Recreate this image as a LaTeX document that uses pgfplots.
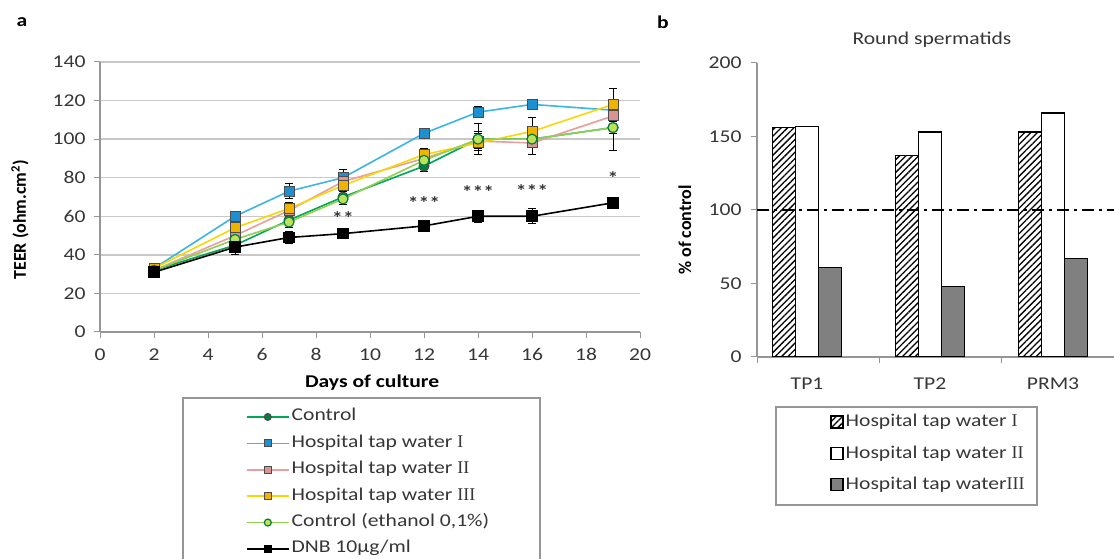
\documentclass[border=0pt]{standalone}
\usepackage{fontspec}
\setmainfont{Carlito}[FakeStretch=1.2]
\newfontfamily\rotfont{Carlito}
\newfontfamily\romfont{Liberation Serif}
\usepackage{pgfplots}
\pgfplotsset{compat=1.18}
\usetikzlibrary{patterns.meta}
\definecolor{axisgray}{RGB}{150,150,150}
\definecolor{gridgray}{RGB}{200,200,200}
\definecolor{labgray}{RGB}{55,55,55}
\definecolor{cCtrl}{RGB}{0,166,90}
\definecolor{cCtrlM}{RGB}{0,128,64}
\definecolor{cH1}{RGB}{60,180,230}
\definecolor{cH1M}{RGB}{30,144,210}
\definecolor{cH2}{RGB}{230,160,160}
\definecolor{cH2M}{RGB}{217,149,148}
\definecolor{cH3}{RGB}{250,215,0}
\definecolor{cH3M}{RGB}{240,180,0}
\definecolor{cEth}{RGB}{146,208,80}
\definecolor{cEthM}{RGB}{190,225,90}
\definecolor{barGray}{RGB}{128,128,128}
\pgfplotsset{
  eb/.style={error bars/.cd, y dir=both, y explicit,
    error bar style={black,line width=1pt},
    error mark options={black,rotate=90,mark size=4pt,line width=1pt}},
}
\newcommand{\fs}{\fontsize{18}{21}\selectfont}
\begin{document}
\begin{tikzpicture}[x=1pt,y=1pt]
\useasboundingbox (0,0) rectangle (1114,559);
\fill[white] (0,0) rectangle (1114,559);
% ---------- panel a ----------
\begin{axis}[
  at={(100pt,227pt)}, anchor=south west, scale only axis,
  width=540pt, height=270pt,
  xmin=0, xmax=20, ymin=0, ymax=140,
  axis x line*=bottom, axis y line*=left,
  axis line style={draw=axisgray, line width=1.2pt, -},
  xtick={0,2,...,20}, ytick={0,20,...,140},
  tick align=outside, major tick length=6pt,
  tick style={draw=axisgray, line width=1pt},
  ymajorgrids, grid style={draw=gridgray, line width=1.5pt},
  ticklabel style={font=\fs, text=labgray},
  yticklabel style={xshift=-5pt},
  xticklabel style={yshift=-7pt},
  /pgf/number format/assume math mode=true,
  xlabel={Days of culture},
  xlabel style={font=\bfseries\fs, at={(axis description cs:0.504,-0.189)}, anchor=center},
  ylabel={TEER (ohm.cm\textsuperscript{2})},
  ylabel style={font=\rotfont\bfseries\fs, at={(axis description cs:-0.148,0.415)}, anchor=center},
  legend style={at={(axis description cs:0.27,-0.265)}, anchor=north west,
    draw=none, fill=none, font=\fs, row sep=0pt, inner sep=0pt,
    nodes={inner ysep=5.2pt, text height=12pt, text depth=4pt, text=labgray}},
  legend cell align=left,
  legend image code/.code={\draw[mark repeat=2, mark phase=2, #1, line width=1.6pt, mark size=3.5pt] plot coordinates {(0pt,0pt) (21pt,0pt) (42pt,0pt)};},
  every axis plot/.append style={line width=1.6pt},
  clip=false,
]
\addplot[color=cCtrl, mark=*, mark size=5pt, mark options={fill=cCtrlM, draw=black!70, line width=1pt}, eb]
 coordinates {(2,32) +- (0,1) (5,45) +- (0,3) (7,58) +- (0,3) (9,70) +- (0,3) (12,86) +- (0,3) (14,100) +- (0,4) (16,100) +- (0,4) (19,106) +- (0,12)};
\addlegendentry{Control}
\addplot[color=cH1, mark=square*, mark size=5pt, mark options={fill=cH1M, draw=black!70, line width=1pt}, eb]
 coordinates {(2,33) +- (0,1) (5,60) +- (0,2) (7,73) +- (0,4) (9,80) +- (0,4) (12,103) +- (0,2) (14,114) +- (0,3) (16,118) +- (0,2) (19,115) +- (0,3)};
\addlegendentry{Hospital tap water {\romfont I}}
\addplot[color=cH2, mark=square*, mark size=5pt, mark options={fill=cH2M, draw=black!70, line width=1pt}, eb]
 coordinates {(2,32) +- (0,1) (5,50) +- (0,3) (7,63) +- (0,3) (9,78) +- (0,3) (12,90) +- (0,3) (14,99) +- (0,4) (16,98) +- (0,6) (19,112) +- (0,5)};
\addlegendentry{Hospital tap water {\romfont II}}
\addplot[color=cH3, mark=square*, mark size=5pt, mark options={fill=cH3M, draw=black!70, line width=1pt}, eb]
 coordinates {(2,33) +- (0,1) (5,54) +- (0,3) (7,64) +- (0,3) (9,76) +- (0,4) (12,92) +- (0,3) (14,98) +- (0,4) (16,104) +- (0,7) (19,118) +- (0,8)};
\addlegendentry{Hospital tap water {\romfont III}}
\addplot[color=cEth, mark=*, mark size=5pt, mark options={fill=cEthM, draw=cCtrlM, line width=1.2pt}, eb]
 coordinates {(2,32) +- (0,1) (5,48) +- (0,3) (7,57) +- (0,3) (9,69) +- (0,3) (12,89) +- (0,3) (14,100) +- (0,8) (16,100) +- (0,3) (19,106) +- (0,3)};
\addlegendentry{Control (ethanol 0,1\%)}
\addplot[color=black, mark=square*, mark size=5pt, mark options={fill=black, draw=black}, eb]
 coordinates {(2,31) +- (0,2) (5,44) +- (0,4) (7,49) +- (0,3) (9,51) +- (0,2) (12,55) +- (0,2) (14,60) +- (0,3) (16,60) +- (0,4) (19,67) +- (0,2)};
\addlegendentry{DNB 10µg/ml}
\node[font=\bfseries\fs, text=labgray] at (axis cs:9,59) {**};
\node[font=\bfseries\fs, text=labgray] at (axis cs:12,67) {***};
\node[font=\bfseries\fs, text=labgray] at (axis cs:14,72.5) {***};
\node[font=\bfseries\fs, text=labgray] at (axis cs:16,73) {***};
\node[font=\bfseries\fs, text=labgray] at (axis cs:19,80) {*};
\end{axis}
\draw[axisgray, line width=1.5pt] (183,-2) -- (183,161) -- (540,161) -- (540,-2);
% ---------- panel b ----------
\begin{axis}[
  at={(757pt,202pt)}, anchor=south west, scale only axis,
  width=357pt, height=294pt,
  xmin=-0.407, xmax=2.496, ymin=0, ymax=200,
  axis x line*=bottom, axis y line*=left,
  axis line style={draw=axisgray, line width=1.2pt, -},
  ybar=0pt, bar width=23pt,
  xtick={-0.407,0.585,1.585}, xticklabels={,,},
  extra x ticks={0,1,2}, extra x tick labels={TP1,TP2,PRM3},
  extra x tick style={tick style={draw=none}, xticklabel style={yshift=-11pt}},
  ytick={0,50,...,200},
  tick align=outside, major tick length=6pt,
  tick style={draw=axisgray, line width=1pt},
  ticklabel style={font=\fs, text=labgray},
  yticklabel style={xshift=-6pt},
  /pgf/number format/assume math mode=true,
  ylabel={\% of control},
  ylabel style={font=\rotfont\bfseries\fs, at={(axis description cs:-0.202,0.432)}, anchor=center},
  legend style={at={(axis description cs:0.205,-0.17)}, anchor=north west,
    draw=none, fill=none, font=\fs, row sep=0pt, inner sep=0pt,
    nodes={inner ysep=7.7pt, text height=12pt, text depth=4pt, text=labgray}},
  legend cell align=left,
  legend image code/.code={\draw[#1] (0pt,-5pt) rectangle (12pt,7pt);},
]
\addplot[draw=black, fill=white, line width=1.3pt, postaction={pattern={Lines[angle=45,distance=4.5pt,line width=1.3pt]}}]
 coordinates {(0,156) (1,137) (2,153)};
\addlegendentry{Hospital tap water {\romfont I}}
\addplot[draw=black, fill=white, line width=1.3pt]
 coordinates {(0,157) (1,153) (2,166)};
\addlegendentry{Hospital tap water {\romfont II}}
\addplot[draw=black, fill=barGray, line width=1.3pt]
 coordinates {(0,61) (1,48) (2,67)};
\addlegendentry{Hospital tap water{\romfont III}}
\draw[line width=1.5pt, dash pattern=on 12pt off 5pt on 3pt off 5pt] (axis cs:-0.407,100) -- (axis cs:2.496,100);
\end{axis}
\draw[axisgray, line width=1.5pt] (776,152) rectangle (1037,54);
% ---------- labels ----------
\node[font=\bfseries\fs] at (22,537) {a};
\node[font=\bfseries\fs] at (663,537) {b};
\node[font=\fs, text=labgray] at (932,519) {Round spermatids};
\end{tikzpicture}
\end{document}
